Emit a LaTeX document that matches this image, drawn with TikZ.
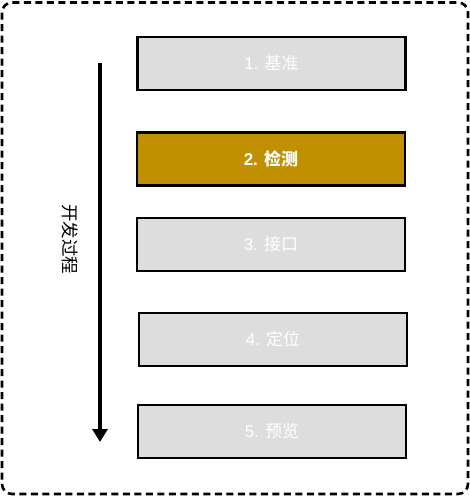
\documentclass[tikz,border=0pt]{standalone}
\usepackage{fontspec}
\setmainfont{Liberation Sans}
\newfontfamily\cjk{Noto Sans CJK SC}
\usetikzlibrary{arrows.meta}
\definecolor{stepgray}{HTML}{DDDDDD}
\definecolor{stepgold}{HTML}{C09000}
\begin{document}
\begin{tikzpicture}[x=1pt,y=-1pt,
  stepbox/.style={draw=black,line width=2.3pt,minimum width=268pt,minimum height=53pt,
    fill=stepgray,text=white,font=\fontsize{17}{20}\selectfont,inner sep=0pt},
  frame/.style={draw=black,line width=2.6pt,dash pattern=on 7pt off 4.5pt,rounded corners=10pt},
  flow/.style={draw=black,line width=3.2pt,-{Triangle[width=15pt,length=13pt]}}]
\useasboundingbox (0,0) rectangle (470,496);
\draw[frame] (2,2.5) rectangle (468,494);
\node[stepbox] (s1) at (271.5,63.5) {1. {\cjk 基准}};
\node[stepbox,fill=stepgold,font=\bfseries\fontsize{17}{20}\selectfont] (s2) at (271,159) {2. {\cjk\bfseries 检测}};
\node[stepbox] (s3) at (271,244.5) {3. {\cjk 接口}};
\node[stepbox] (s4) at (273,339.5) {4. {\cjk 定位}};
\node[stepbox] (s5) at (272,431.5) {5. {\cjk 预览}};
\coordinate (top) at (100,63);
\coordinate (bot) at (100,442);
\draw[flow] (top) -- (bot);
\node[rotate=-90,font=\cjk\fontsize{17.5}{20}\selectfont] (lbl) at (70,239) {开发过程};
\end{tikzpicture}
\end{document}
